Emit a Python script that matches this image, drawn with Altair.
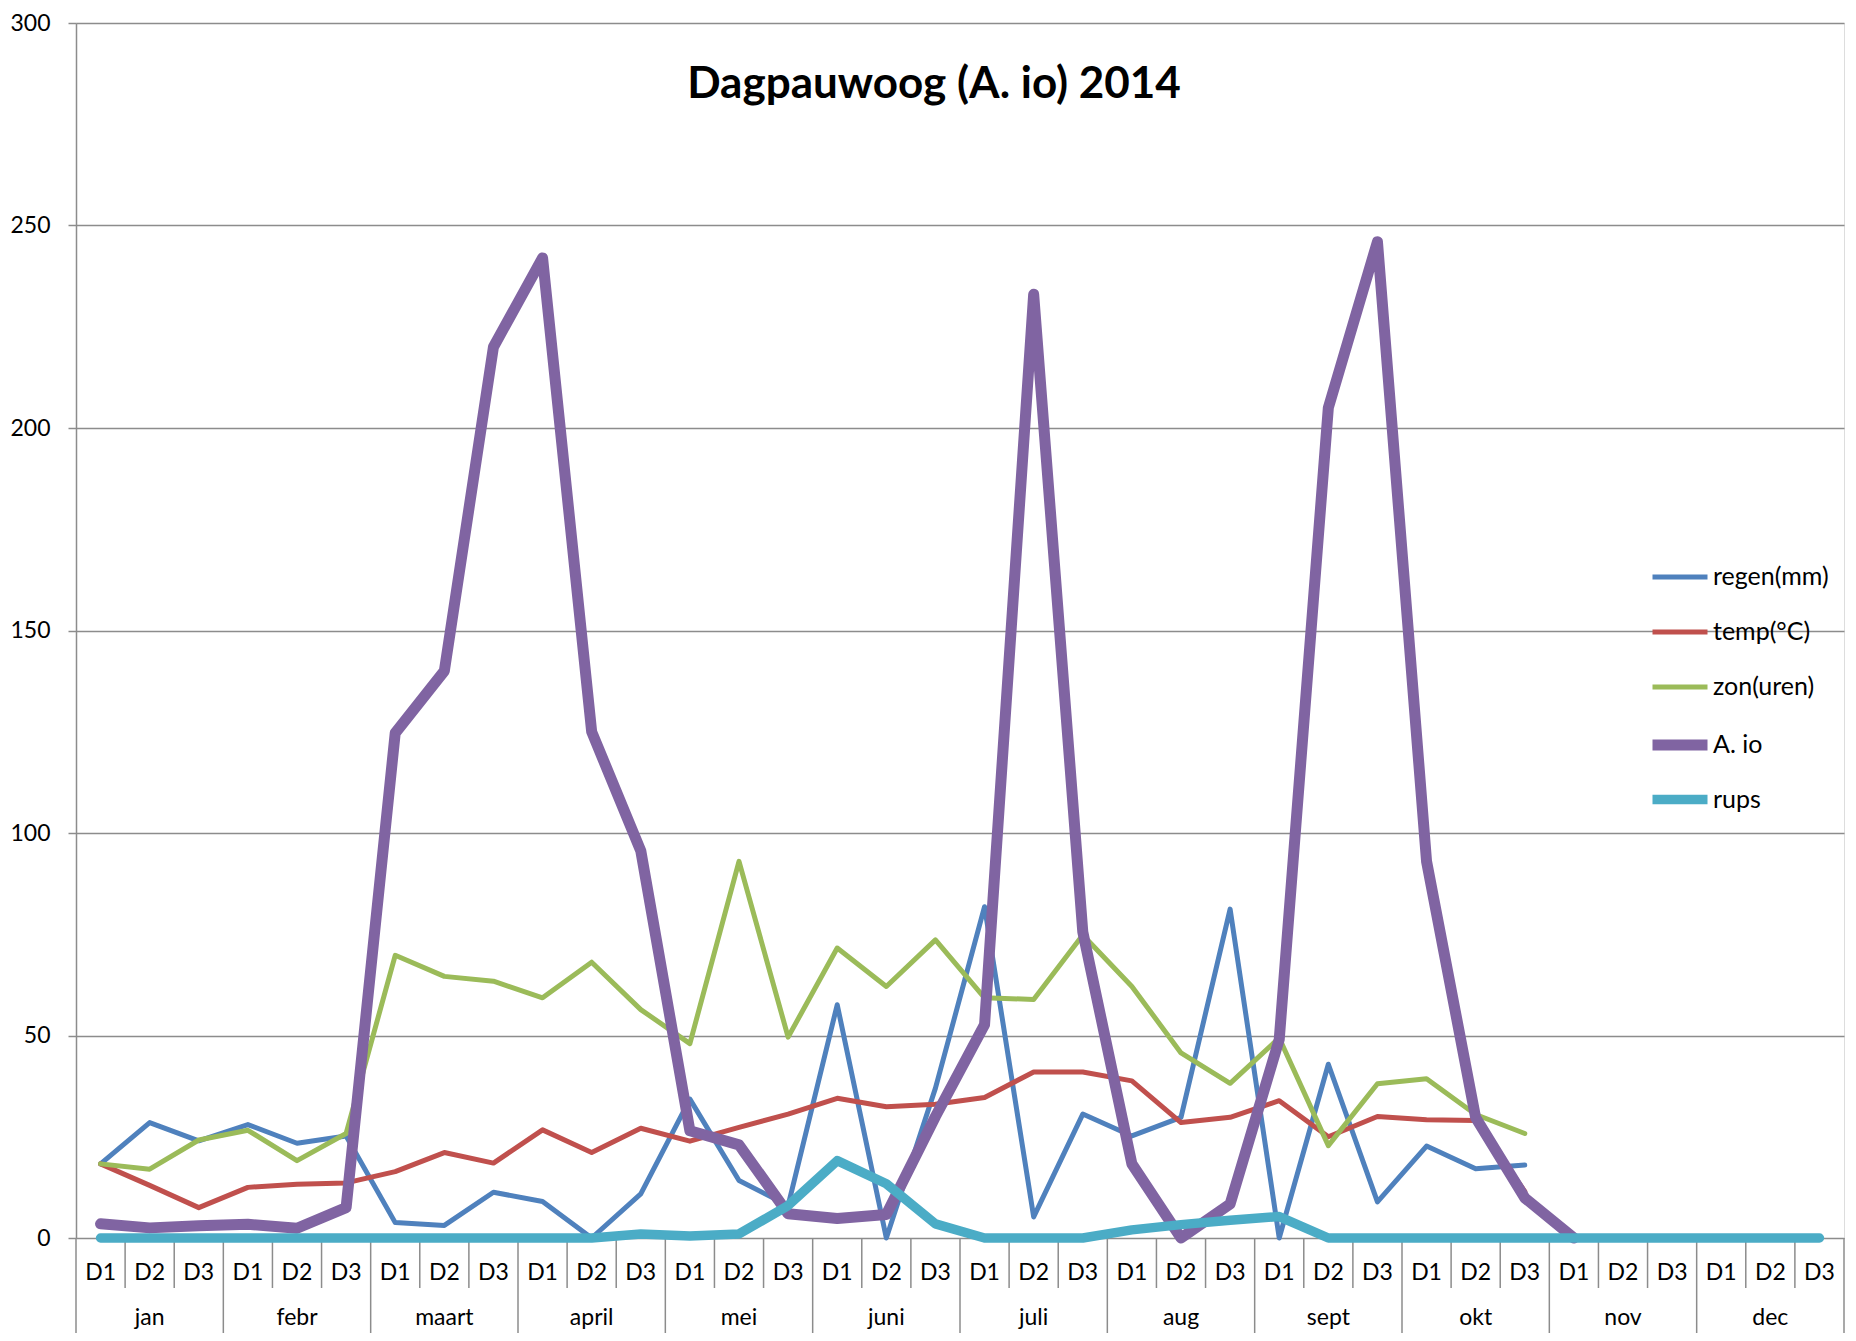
import altair as alt
import pandas as pd

months = ["jan", "febr", "maart", "april", "mei", "juni", "juli", "aug", "sept", "okt", "nov", "dec"]
decades = ["D1", "D2", "D3"]

series_names = ["regen(mm)", "temp(°C)", "zon(uren)", "A. io", "rups"]
series_colors = ["#4F81BD", "#C0504D", "#9BBB59", "#8064A2", "#4BACC6"]
series_widths = [5, 5, 5, 11, 9.5]

N = None
regen = [18.3, 28.5, 24.0, 28.0, 23.4, 25.2, 3.8, 3.1, 11.3, 9.0, 0.0, 10.9,
         34.3, 14.2, 8.0, 57.6, 0.0, 37.0, 81.8, 5.2, 30.6, 25.2, 29.8, 81.2,
         0.0, 42.9, 8.9, 22.7, 17.1, 18.0, N, N, N, N, N, N]
temp = [18.3, 13.0, 7.5, 12.5, 13.3, 13.6, 16.4, 21.1, 18.5, 26.7, 21.1, 27.1,
        23.9, 27.3, 30.6, 34.5, 32.4, 33.0, 34.7, 41.0, 41.0, 38.8, 28.5, 29.8,
        33.9, 25.0, 30.0, 29.2, 29.0, 11.5, N, N, N, N, N, N]
zon = [18.3, 17.0, 24.2, 26.6, 19.1, 25.8, 69.8, 64.6, 63.4, 59.3, 68.1, 56.4,
       48.0, 93.0, 49.6, 71.6, 62.1, 73.6, 59.3, 58.9, 74.8, 62.1, 45.7, 38.2,
       49.4, 22.8, 38.1, 39.3, 30.5, 25.8, N, N, N, N, N, N]
aio = [3.5, 2.5, 3.0, 3.4, 2.4, 7.5, 124.7, 140.0, 220.0, 242.0, 125.0, 95.6,
       26.5, 23.0, 6.0, 4.8, 5.8, 30.0, 52.7, 233.0, 75.6, 18.3, 0.0, 8.4,
       49.0, 205.0, 246.0, 93.0, 29.7, 9.9, 0.0, N, N, N, N, N]
rups = [0, 0, 0, 0, 0, 0, 0, 0, 0, 0, 0, 1.0,
        0.5, 1.0, 8.0, 19.1, 13.4, 3.5, 0, 0, 0, 2.0, 3.3, 4.4,
        5.3, 0, 0, 0, 0, 0, 0, 0, 0, 0, 0, 0]

y_ticks = [0, 50, 100, 150, 200, 250, 300]

FONT = "Lato"
GRID = "#8C8C8C"

all_values = [regen, temp, zon, aio, rups]
rows = []
for name, vals in zip(series_names, all_values):
    for i, v in enumerate(vals):
        if v is not None:
            rows.append({"series": name, "pos": i + 0.5, "value": v})
df = pd.DataFrame(rows)

n_cat = len(months) * len(decades)
dlab = pd.DataFrame({"pos": [i + 0.5 for i in range(n_cat)],
                     "label": [decades[i % 3] for i in range(n_cat)]})
mlab = pd.DataFrame({"pos": [m * 3 + 1.5 for m in range(len(months))], "label": months})
small_sep = pd.DataFrame({"pos": [i for i in range(n_cat + 1) if i % 3 != 0]})
month_sep = pd.DataFrame({"pos": [i for i in range(0, n_cat + 1, 3)]})

xscale = alt.Scale(domain=[0, n_cat], nice=False, zero=False)
yscale = alt.Scale(domain=[0, 300], nice=False)

legend_kw = dict(title=None, orient="none", legendX=1571, legendY=524,
                 symbolType="stroke", symbolSize=3025, gridAlign="all",
                 labelFont=FONT, labelFontSize=25, labelColor="black",
                 labelOffset=0, rowPadding=0, labelLimit=300)

color = alt.Color("series:N", scale=alt.Scale(domain=series_names, range=series_colors),
                  legend=alt.Legend(**legend_kw))
swidth = alt.StrokeWidth("series:N",
                         scale=alt.Scale(type="ordinal", domain=series_names, range=series_widths),
                         legend=alt.Legend(**legend_kw))

line_layers = []
for name in series_names:
    layer = alt.Chart(df).mark_line(strokeJoin="round", strokeCap="round").encode(
        x=alt.X("pos:Q", scale=xscale, axis=None),
        y=alt.Y("value:Q", scale=yscale,
                axis=alt.Axis(values=y_ticks, title=None, grid=True, gridColor=GRID, gridWidth=1.5,
                              domainColor=GRID, domainWidth=1.5, tickColor=GRID, tickWidth=1.5,
                              tickSize=8, labelFont=FONT, labelFontSize=23, labelColor="black",
                              labelPadding=18, labelFlush=False)),
        color=color,
        strokeWidth=swidth,
    ).transform_filter(alt.datum.series == name)
    line_layers.append(layer)

sep_small = alt.Chart(small_sep).mark_rule(color=GRID, strokeWidth=1.5).encode(
    x=alt.X("pos:Q", scale=xscale, axis=None), y=alt.value(1215), y2=alt.value(1265))
sep_month = alt.Chart(month_sep).mark_rule(color=GRID, strokeWidth=1.5).encode(
    x=alt.X("pos:Q", scale=xscale, axis=None), y=alt.value(1215), y2=alt.value(1323))
dtext = alt.Chart(dlab).mark_text(font=FONT, fontSize=23, color="black", baseline="alphabetic").encode(
    x=alt.X("pos:Q", scale=xscale, axis=None), y=alt.value(1257), text="label:N")
mtext = alt.Chart(mlab).mark_text(font=FONT, fontSize=23, color="black", baseline="alphabetic").encode(
    x=alt.X("pos:Q", scale=xscale, axis=None), y=alt.value(1302), text="label:N")

chart = alt.layer(sep_small, sep_month, dtext, mtext, *line_layers).properties(
    width=1768, height=1215,
    title=alt.TitleParams("Dagpauwoog (A. io) 2014", font=FONT, fontSize=44, fontWeight="bold",
                          color="black", anchor="middle", frame="group", orient="top",
                          baseline="alphabetic", offset=0, dy=130, dx=-26),
    autosize=alt.AutoSizeParams(type="none"),
    padding={"left": 68, "top": 15, "right": 4, "bottom": 95},
).configure_view(stroke=None).configure(background="white")

chart.save("out.html", embed_options={"renderer": "svg", "actions": False})
